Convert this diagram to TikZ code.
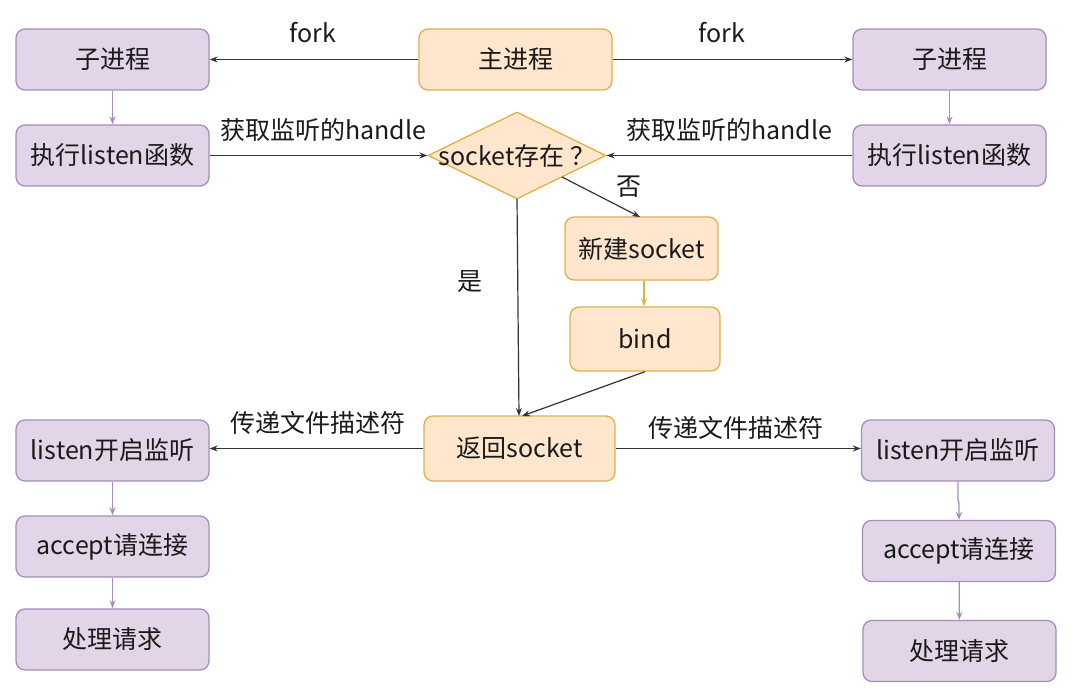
\documentclass[tikz,border=0pt]{standalone}
\usepackage{fontspec}
\setmainfont{Noto Sans CJK SC}
\usetikzlibrary{shapes.geometric,arrows.meta}
\definecolor{pfill}{HTML}{E1D5E7}
\definecolor{pline}{HTML}{A68DBA}
\definecolor{ofill}{HTML}{FFE6CC}
\definecolor{oline}{HTML}{DDB04A}
\definecolor{txt}{HTML}{1A1A1A}
\definecolor{arr}{HTML}{333333}
\tikzset{
  box/.style={rounded corners=9pt, line width=1.3pt, minimum width=193pt, minimum height=61pt, inner sep=0pt, text=txt, font=\fontsize{25}{30}\selectfont},
  pbox/.style={box, draw=pline, fill=pfill},
  obox/.style={box, draw=oline, fill=ofill},
  blk/.style={draw=arr, line width=1.2pt, -{Stealth[length=8pt,width=6pt]}},
  parr/.style={draw=pline, line width=1.3pt, -{Stealth[length=8pt,width=6pt]}},
  oarr/.style={draw=oline, line width=1.3pt, -{Stealth[length=8pt,width=6pt]}},
  lbl/.style={text=txt, font=\fontsize{25}{30}\selectfont, inner sep=0pt}
}
\begin{document}
\begin{tikzpicture}[x=1pt,y=-1pt]
\useasboundingbox (0,0) rectangle (1080,698);
% left column
\node[pbox] (lc) at (112.5,59.5) {子进程};
\node[pbox] (le) at (112.5,155.5) {执行listen函数};
\node[pbox] (ll) at (112.5,450.5) {listen开启监听};
\node[pbox] (la) at (112.5,546.5) {accept请连接};
\node[pbox] (lp) at (112.5,639.5) {处理请求};
% right column
\node[pbox] (rc) at (949.5,59.5) {子进程};
\node[pbox] (re) at (949.5,155.5) {执行listen函数};
\node[pbox] (rl) at (958,450.5) {listen开启监听};
\node[pbox] (ra) at (959,551) {accept请连接};
\node[pbox] (rp) at (959.5,651) {处理请求};
% center
\node[obox] (main) at (515.5,59.5) {主进程};
\node[diamond, draw=oline, fill=ofill, line width=1.3pt, minimum width=178pt, minimum height=87pt, inner sep=0pt] (dia) at (517,155.5) {};
\node[lbl] (diat) at (dia.center) {socket存在 ？};
\node[obox, minimum width=153pt, minimum height=63pt] (new) at (641.5,248.5) {新建socket};
\node[obox, minimum width=150pt, minimum height=64pt] (bind) at (645,339) {bind};
\node[obox, minimum width=191pt, minimum height=65pt] (ret) at (519.5,448.5) {返回socket};
% arrows top
\draw[blk] (main.west) -- (lc.east);
\draw[blk] (main.east) -- (rc.west);
\node[lbl] (f1) at (313,33) {fork};
\node[lbl] (f2) at (722,33) {fork};
\draw[parr] (lc) -- (le);
\draw[parr] (rc) -- (re);
\draw[blk] (le.east) -- (dia.west);
\draw[blk] (re.west) -- (dia.east);
\node[lbl] (h1) at (323,130) {获取监听的handle};
\node[lbl] (h2) at (729,130) {获取监听的handle};
% decision
\coordinate (dno) at (562,177);
\coordinate (dyes) at (517,199);
\coordinate (rettop1) at (519,416);
\coordinate (rettop2) at (522,416);
\draw[blk] (dno) -- (640,217);
\node[lbl] (no) at (629,187) {否};
\draw[blk] (dyes) -- (rettop1);
\node[lbl] (yes) at (470,282) {是};
\draw[oarr] (new.south -| 644,0) -- (bind.north -| 644,0);
\draw[blk] (bind.south) -- (rettop2);
% bottom
\coordinate (rlw) at (rl.west |- ret.east);
\coordinate (llw) at (ll.east |- ret.west);
\draw[blk] (ret.west) -- (llw);
\draw[blk] (ret.east) -- (rlw);
\node[lbl] (d1) at (318,423) {传递文件描述符};
\node[lbl] (d2) at (736,428) {传递文件描述符};
\draw[parr] (ll) -- (la);
\draw[parr] (la) -- (lp);
\draw[parr] (rl.south) -- ++(0,18) -- ++(1,4) -- (ra.north);
\draw[parr] (ra) -- (rp);
\end{tikzpicture}
\end{document}
